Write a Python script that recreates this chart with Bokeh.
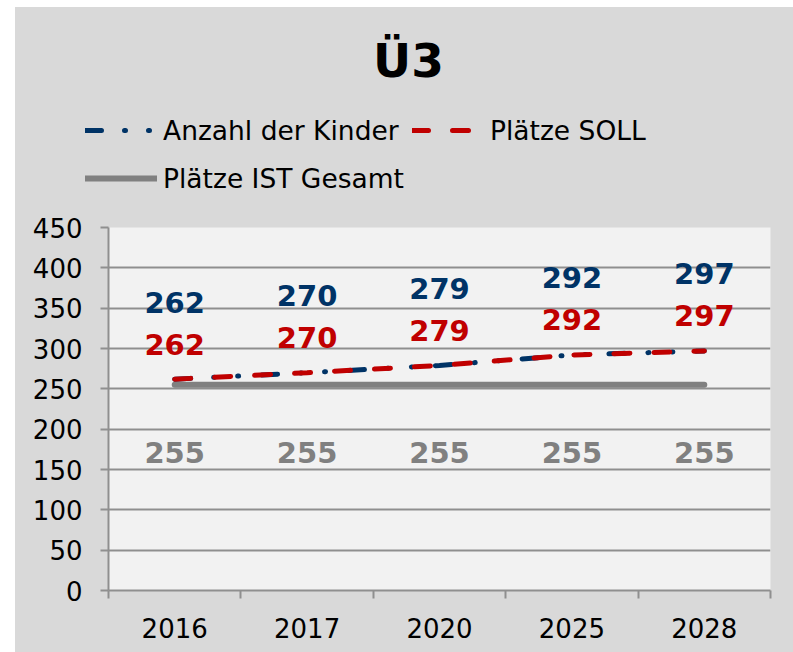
from bokeh.plotting import figure
from bokeh.models import (ColumnDataSource, FixedTicker, Legend, LegendItem,
                          Label, LabelSet, Range1d)
from bokeh.layouts import column, row
from bokeh.core.properties import value
from bokeh.embed import file_html
from bokeh.resources import INLINE

# ---- data ----
years = ["2016", "2017", "2020", "2025", "2028"]
kinder = [262, 270, 279, 292, 297]
soll = [262, 270, 279, 292, 297]
ist = [255, 255, 255, 255, 255]
y_ticks = [0, 50, 100, 150, 200, 250, 300, 350, 400, 450]
title_text = "Ü3"
series_names = ["Anzahl der Kinder", "Plätze SOLL", "Plätze IST Gesamt"]

# category centres on a numeric scale (category i occupies [i, i+1])
xc = [i + 0.5 for i in range(len(years))]
bounds = [i for i in range(len(years) + 1)]

src = ColumnDataSource(dict(
    x=xc, kinder=kinder, soll=soll, ist=ist,
    kinder_t=[str(v) for v in kinder],
    soll_t=[str(v) for v in soll],
    ist_t=[str(v) for v in ist],
))

FONT = "DejaVu Sans"
BLUE = "#003366"
RED = "#c00000"
GRAY = "#808080"
GRID = "#8f8f8f"
BG = "#d9d9d9"

STYLE_KINDER = dict(line_color=BLUE, line_width=5, line_cap="round", line_dash="16 23 1 23 1 23")
STYLE_SOLL = dict(line_color=RED, line_width=5, line_cap="round", line_dash="16 24")
STYLE_IST = dict(line_color=GRAY, line_width=6, line_cap="round")

# ---------------- header figure: title + legend ----------------
head = figure(width=778, height=200, output_backend="svg", toolbar_location=None,
              x_range=Range1d(0, 1), y_range=Range1d(0, 1),
              x_axis_type=None, y_axis_type=None,
              min_border=0, min_border_left=0, min_border_right=0,
              min_border_top=0, min_border_bottom=0)
head.background_fill_color = BG
head.border_fill_color = BG
head.outline_line_color = None
head.grid.visible = False

# legend proxies: same series, but outside this header's (0..1) ranges, so only
# their legend samples are visible
lk = head.line("x", "kinder", source=src, **STYLE_KINDER)
ls = head.line("x", "soll", source=src, **STYLE_SOLL)
li = head.line("x", "ist", source=src, **STYLE_IST)

head.add_layout(Label(x=393, y=147, x_units="screen", y_units="screen",
                      text=title_text, text_align="center", text_baseline="middle",
                      text_font=FONT, text_font_size="47px",
                      text_font_style="bold", text_color="black"))

legend = Legend(items=[LegendItem(label=series_names[0], renderers=[lk]),
                       LegendItem(label=series_names[1], renderers=[ls]),
                       LegendItem(label=series_names[2], renderers=[li])],
                orientation="horizontal", ncols=2,
                location=(70, 9))
legend.label_text_font = FONT
legend.label_text_font_size = "26.5px"
legend.label_text_color = "black"
legend.glyph_width = 72
legend.glyph_height = 40
legend.label_height = 40
legend.label_standoff = 6
legend.spacing = 8
legend.padding = 0
legend.margin = 0
legend.border_line_alpha = 0
legend.background_fill_alpha = 0
head.add_layout(legend, "center")

head_box = row(head)
head_box.styles = {"background-color": BG}

# ---------------- main chart ----------------
p = figure(width=778, height=445, output_backend="svg", toolbar_location=None,
           x_range=Range1d(0, len(years)), y_range=Range1d(0, 450),
           min_border_left=93, min_border_right=23, min_border_top=20,
           min_border_bottom=62)
p.background_fill_color = "#f2f2f2"
p.border_fill_color = BG
p.outline_line_color = None

# axes
p.xaxis.ticker = FixedTicker(ticks=xc, minor_ticks=bounds)
p.xaxis.major_label_overrides = {x: y for x, y in zip(xc, years)}
p.xaxis.major_tick_out = 0
p.xaxis.major_tick_in = 0
p.xaxis.minor_tick_out = 8
p.xaxis.minor_tick_in = 0
p.xaxis.minor_tick_line_color = GRID
p.xaxis.minor_tick_line_width = 2
p.xaxis.axis_line_color = GRID
p.xaxis.axis_line_width = 2
p.xaxis.major_label_standoff = 19
p.xaxis.major_label_text_font = FONT
p.xaxis.major_label_text_font_size = "26px"
p.xaxis.major_label_text_color = "black"

p.yaxis.ticker = FixedTicker(ticks=y_ticks, minor_ticks=[])
p.yaxis.major_tick_out = 8
p.yaxis.major_tick_in = 0
p.yaxis.major_tick_line_color = GRID
p.yaxis.major_tick_line_width = 2
p.yaxis.axis_line_color = GRID
p.yaxis.axis_line_width = 2
p.yaxis.major_label_standoff = 18
p.yaxis.major_label_text_font = FONT
p.yaxis.major_label_text_font_size = "26px"
p.yaxis.major_label_text_color = "black"

p.xgrid.visible = False
p.ygrid.ticker = FixedTicker(ticks=y_ticks, minor_ticks=[])
p.ygrid.grid_line_color = GRID
p.ygrid.grid_line_width = 2

# lines
p.line("x", "ist", source=src, **STYLE_IST)
p.line("x", "kinder", source=src, **STYLE_KINDER)
p.line("x", "soll", source=src, **STYLE_SOLL)

# data labels
for col, color, off in [("kinder_t", BLUE, 77), ("soll_t", RED, 35), ("ist_t", GRAY, -68)]:
    ycol = col[:-2]
    p.add_layout(LabelSet(x="x", y=ycol, text=col, source=src, y_offset=off,
                          text_align="center", text_baseline="middle",
                          text_font=value(FONT), text_font_size="29px",
                          text_font_style="bold", text_color=color))

layout = column(head_box, p, spacing=0)
layout.margin = (7, 0, 0, 15)
layout.styles = {"background-color": BG}
open("out.html", "w").write(file_html(layout, INLINE))
